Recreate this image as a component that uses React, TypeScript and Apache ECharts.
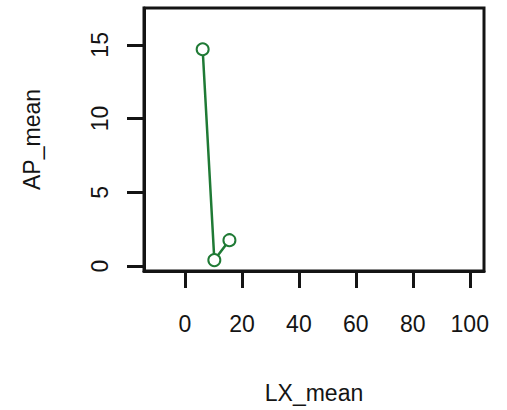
import React, { useEffect, useRef } from "react";
import * as echarts from "echarts";

const lxMean = [6.2, 10.3, 15.6];
const apMean = [14.7, 0.4, 1.75];
const xTicks = [0, 20, 40, 60, 80, 100];
const yTicks = [0, 5, 10, 15];

export default function App() {
  const ref = useRef<HTMLDivElement>(null);
  useEffect(() => {
    if (!ref.current) return;
    const chart = echarts.init(ref.current, undefined, { renderer: "svg" });
    const font = "'Liberation Sans', Arial, Helvetica, sans-serif";
    const ink = "#141414";
    chart.setOption({
      animation: false,
      backgroundColor: "#ffffff",
      grid: {
        left: 144,
        right: 23,
        top: 8,
        bottom: 139,
        show: true,
        borderColor: ink,
        borderWidth: 3,
        backgroundColor: "transparent",
      },
      xAxis: {
        type: "value",
        min: -14.4,
        max: 105,
        interval: 20,
        splitLine: { show: false },
        axisLine: { show: true, onZero: false, lineStyle: { color: ink, width: 3 } },
        axisTick: { show: true, length: 17, lineStyle: { color: ink, width: 3 }, customValues: xTicks },
        axisLabel: {
          customValues: xTicks,
          fontSize: 23,
          color: ink,
          fontFamily: font,
          margin: 41,
        },
        name: "LX_mean",
        nameLocation: "middle",
        nameGap: 110,
        nameTextStyle: { fontSize: 23, color: ink, fontFamily: font },
      },
      yAxis: {
        type: "value",
        min: -0.34,
        max: 17.5,
        splitLine: { show: false },
        axisLine: { show: true, onZero: false, lineStyle: { color: ink, width: 3 } },
        axisTick: { show: true, length: 17, lineStyle: { color: ink, width: 3 }, customValues: yTicks },
        axisLabel: {
          customValues: yTicks,
          rotate: 90,
          fontSize: 23,
          color: ink,
          fontFamily: font,
          margin: 33,
        },
        name: "AP_mean",
        nameLocation: "middle",
        nameRotate: 90,
        nameGap: 101,
        nameTextStyle: { fontSize: 23, color: ink, fontFamily: font },
      },
      series: [
        {
          type: "line",
          data: lxMean.map((x, i) => [x, apMean[i]]),
          symbol: "emptyCircle",
          symbolSize: 12,
          lineStyle: { color: "#1f7a35", width: 2.5 },
          itemStyle: { color: "#1f7a35", borderColor: "#1f7a35", borderWidth: 3 },
        },
      ],
    });
    return () => chart.dispose();
  }, []);
  return <div ref={ref} style={{ width: 507, height: 410, position: "absolute", left: 0, top: 0 }} />;
}
